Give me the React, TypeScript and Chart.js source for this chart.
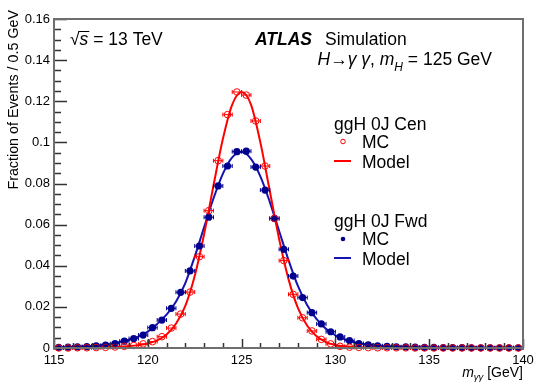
import React, { useEffect, useRef } from 'react';
import { Chart, registerables } from 'chart.js';

Chart.register(...registerables);

// ---- data ----
const binCenters = [
  115.25, 115.75, 116.25, 116.75, 117.25, 117.75, 118.25, 118.75, 119.25, 119.75,
  120.25, 120.75, 121.25, 121.75, 122.25, 122.75, 123.25, 123.75, 124.25, 124.75,
  125.25, 125.75, 126.25, 126.75, 127.25, 127.75, 128.25, 128.75, 129.25, 129.75,
  130.25, 130.75, 131.25, 131.75, 132.25, 132.75, 133.25, 133.75, 134.25, 134.75,
  135.25, 135.75, 136.25, 136.75, 137.25, 137.75, 138.25, 138.75, 139.25, 139.75,
];
const binHalfWidth = 0.25;

const cenMC = [
  0.0000, 0.0000, 0.0001, 0.0001, 0.0002, 0.0003, 0.0005, 0.0008, 0.0012, 0.0020,
  0.0031, 0.0055, 0.0097, 0.0165, 0.0272, 0.0444, 0.0668, 0.0911, 0.1135, 0.1245,
  0.1230, 0.1104, 0.0885, 0.0630, 0.0425, 0.0261, 0.0147, 0.0083, 0.0042, 0.0020,
  0.0008, 0.0004, 0.0003, 0.0002, 0.0001, 0.0001, 0.0001, 0.0001, 0.0000, 0.0000,
  0.0000, 0.0000, 0.0000, 0.0000, 0.0000, 0.0000, 0.0000, 0.0000, 0.0000, 0.0000,
];

const fwdMC = [
  0.0003, 0.0004, 0.0005, 0.0007, 0.0010, 0.0014, 0.0021, 0.0033, 0.0046, 0.0063,
  0.0099, 0.0136, 0.0193, 0.0271, 0.0375, 0.0496, 0.0636, 0.0788, 0.0885, 0.0955,
  0.0957, 0.0880, 0.0768, 0.0630, 0.0480, 0.0350, 0.0245, 0.0172, 0.0117, 0.0079,
  0.0054, 0.0036, 0.0022, 0.0015, 0.0011, 0.0008, 0.0006, 0.0005, 0.0004, 0.0003,
  0.0003, 0.0002, 0.0002, 0.0002, 0.0001, 0.0001, 0.0001, 0.0001, 0.0001, 0.0001,
];

const modelX = [
  115, 115.5, 116, 116.5, 117, 117.5, 118, 118.5, 119, 119.5,
  120, 120.5, 121, 121.5, 122, 122.5, 123, 123.5, 124, 124.5,
  125, 125.5, 126, 126.5, 127, 127.5, 128, 128.5, 129, 129.5,
  130, 130.5, 131, 131.5, 132, 132.5, 133, 133.5, 134, 134.5,
  135, 135.5, 136, 136.5, 137, 137.5, 138, 138.5, 139, 139.5, 140,
];

const cenModel = [
  0.0000, 0.0000, 0.0001, 0.0001, 0.0002, 0.0003, 0.0004, 0.0006, 0.0009, 0.0014,
  0.0022, 0.0037, 0.0066, 0.0118, 0.0205, 0.0350, 0.0553, 0.0789, 0.1016, 0.1184,
  0.1245, 0.1184, 0.1000, 0.0765, 0.0530, 0.0335, 0.0195, 0.0108, 0.0057, 0.0029,
  0.0015, 0.0008, 0.0005, 0.0003, 0.0002, 0.0002, 0.0001, 0.0001, 0.0001, 0.0000,
  0.0000, 0.0000, 0.0000, 0.0000, 0.0000, 0.0000, 0.0000, 0.0000, 0.0000, 0.0000, 0.0000,
];

const fwdModel = [
  0.0003, 0.0004, 0.0005, 0.0007, 0.0010, 0.0014, 0.0020, 0.0029, 0.0040, 0.0055,
  0.0080, 0.0117, 0.0162, 0.0225, 0.0316, 0.0444, 0.0587, 0.0727, 0.0847, 0.0927,
  0.0953, 0.0920, 0.0835, 0.0711, 0.0569, 0.0428, 0.0302, 0.0208, 0.0140, 0.0093,
  0.0062, 0.0042, 0.0028, 0.0019, 0.0013, 0.0009, 0.0007, 0.0005, 0.0004, 0.0003,
  0.0003, 0.0002, 0.0002, 0.0002, 0.0001, 0.0001, 0.0001, 0.0001, 0.0001, 0.0001, 0.0001,
];

const xMin = 115;
const xMax = 140;
const xMajorStep = 5;
const xMinorStep = 1;
const yMin = 0;
const yMax = 0.16;
const yMajorStep = 0.02;
const yMinorStep = 0.005;

// ---- styles ----
const FONT = '"Liberation Sans", Arial, Helvetica, sans-serif';
const BIG = 17.5;
const RED = '#ff0000';
const BLUE_PT = '#00008f';
const BLUE_LINE = '#1414b0';
const FRAME = '#6e6e6e';

const errorBarPlugin = {
  id: 'errBars',
  afterDatasetsDraw(chart: any) {
    const ctx = chart.ctx;
    const xs = chart.scales.x;
    const ys = chart.scales.y;
    chart.data.datasets.forEach((ds: any, i: number) => {
      if (!ds.errColor || !chart.isDatasetVisible(i)) return;
      ctx.save();
      ctx.strokeStyle = ds.errColor;
      ctx.lineWidth = 1;
      ds.data.forEach((p: any) => {
        const x1 = xs.getPixelForValue(p.x - binHalfWidth);
        const x2 = xs.getPixelForValue(p.x + binHalfWidth);
        const y = ys.getPixelForValue(p.y);
        ctx.beginPath();
        ctx.moveTo(x1, y);
        ctx.lineTo(x2, y);
        ctx.moveTo(x1, y - 2);
        ctx.lineTo(x1, y + 2);
        ctx.moveTo(x2, y - 2);
        ctx.lineTo(x2, y + 2);
        ctx.stroke();
      });
      ctx.restore();
    });
  },
};

type Part = { t: string; f: string; dy?: number };

function richWidth(ctx: CanvasRenderingContext2D, parts: Part[]) {
  let w = 0;
  parts.forEach((p) => {
    ctx.font = p.f;
    w += ctx.measureText(p.t).width;
  });
  return w;
}

function drawRich(ctx: CanvasRenderingContext2D, parts: Part[], x: number, y: number) {
  let cx = x;
  parts.forEach((p) => {
    ctx.font = p.f;
    ctx.fillText(p.t, cx, y + (p.dy || 0));
    cx += ctx.measureText(p.t).width;
  });
  return cx;
}

const framePlugin = {
  id: 'frameAndText',
  afterDraw(chart: any) {
    const ctx: CanvasRenderingContext2D = chart.ctx;
    const { left, right, top, bottom } = chart.chartArea;
    const xs = chart.scales.x;
    const ys = chart.scales.y;
    ctx.save();
    // ticks
    ctx.strokeStyle = '#333';
    ctx.lineWidth = 1.5;
    ctx.beginPath();
    for (let v = xMin; v <= xMax + 1e-9; v += xMinorStep) {
      const px = Math.round(xs.getPixelForValue(v)) + 0.5;
      const major = Math.abs(v / xMajorStep - Math.round(v / xMajorStep)) < 1e-6;
      const len = major ? 9 : 5;
      ctx.moveTo(px, bottom);
      ctx.lineTo(px, bottom - len);
    }
    const nY = Math.round((yMax - yMin) / yMinorStep);
    for (let k = 0; k <= nY; k++) {
      const v = yMin + k * yMinorStep;
      const py = Math.round(ys.getPixelForValue(v)) + 0.5;
      const major = k % Math.round(yMajorStep / yMinorStep) === 0;
      const len = major ? 13 : 7;
      ctx.moveTo(left, py);
      ctx.lineTo(left + len, py);
    }
    ctx.stroke();
    // frame
    ctx.strokeStyle = FRAME;
    ctx.lineWidth = 2;
    ctx.strokeRect(left, top, right - left, bottom - top);

    ctx.fillStyle = '#000';
    ctx.textBaseline = 'alphabetic';
    ctx.textAlign = 'left';

    // y title
    ctx.save();
    ctx.translate(18, 10);
    ctx.rotate(-Math.PI / 2);
    ctx.font = `14.3px ${FONT}`;
    ctx.textAlign = 'right';
    ctx.fillText('Fraction of Events / 0.5 GeV', 0, 0);
    ctx.restore();

    // x title
    const xt: Part[] = [
      { t: 'm', f: `italic 14px ${FONT}` },
      { t: 'γγ', f: `italic 9.5px ${FONT}`, dy: 3 },
      { t: ' [GeV]', f: `14px ${FONT}` },
    ];
    drawRich(ctx, xt, right - richWidth(ctx, xt), 377);

    // sqrt(s) = 13 TeV
    const r1 = `${BIG}px ${FONT}`;
    ctx.font = r1;
    ctx.fillText('√', 70, 45);
    const sx = 70 + ctx.measureText('√').width;
    ctx.font = `italic ${BIG}px ${FONT}`;
    ctx.fillText('s', sx, 45);
    const sw = ctx.measureText('s').width;
    ctx.lineWidth = 1;
    ctx.strokeStyle = '#000';
    ctx.beginPath();
    ctx.moveTo(sx - 1, 31.5);
    ctx.lineTo(sx + sw + 1, 31.5);
    ctx.stroke();
    ctx.font = r1;
    ctx.fillText(' = 13 TeV', sx + sw, 45);

    // ATLAS Simulation
    ctx.font = `italic bold ${BIG}px ${FONT}`;
    ctx.fillText('ATLAS', 255, 45);
    ctx.font = r1;
    ctx.fillText('Simulation', 325, 45);

    // H -> gamma gamma, m_H = 125 GeV
    const hp: Part[] = [
      { t: 'H', f: `italic ${BIG}px ${FONT}` },
      { t: '→', f: `${BIG}px ${FONT}` },
      { t: 'γ γ', f: `italic ${BIG}px ${FONT}` },
      { t: ', ', f: `${BIG}px ${FONT}` },
      { t: 'm', f: `italic ${BIG}px ${FONT}` },
      { t: 'H', f: `italic 12px ${FONT}`, dy: 6 },
      { t: ' = 125 GeV', f: `${BIG}px ${FONT}` },
    ];
    drawRich(ctx, hp, 492 - richWidth(ctx, hp), 65);

    // legend
    ctx.font = r1;
    ctx.fillText('ggH 0J Cen', 334, 130);
    ctx.fillText('MC', 362, 148);
    ctx.fillText('Model', 362, 168);
    ctx.fillText('ggH 0J Fwd', 334, 227);
    ctx.fillText('MC', 362, 245);
    ctx.fillText('Model', 362, 265);

    ctx.strokeStyle = RED;
    ctx.lineWidth = 1;
    ctx.beginPath();
    ctx.arc(343, 141.5, 2.3, 0, Math.PI * 2);
    ctx.stroke();
    ctx.lineWidth = 2;
    ctx.beginPath();
    ctx.moveTo(334, 161);
    ctx.lineTo(351, 161);
    ctx.stroke();

    ctx.fillStyle = BLUE_PT;
    ctx.beginPath();
    ctx.arc(343, 239, 2.3, 0, Math.PI * 2);
    ctx.fill();
    ctx.strokeStyle = BLUE_LINE;
    ctx.beginPath();
    ctx.moveTo(334, 258);
    ctx.lineTo(351, 258);
    ctx.stroke();

    ctx.restore();
  },
};

function fmt(v: number) {
  return String(Number(Number(v).toFixed(4)));
}

export default function App() {
  const ref = useRef<HTMLCanvasElement | null>(null);
  useEffect(() => {
    document.body.style.margin = '0';
    const canvas = ref.current;
    if (!canvas) return;
    const pts = (xs: number[], ys: number[]) => xs.map((x, i) => ({ x, y: ys[i] }));
    const chart = new Chart(canvas, {
      type: 'scatter',
      data: {
        datasets: [
          {
            label: 'Cen MC',
            data: pts(binCenters, cenMC),
            showLine: false,
            pointStyle: 'circle',
            pointRadius: 3.3,
            pointBorderWidth: 1,
            pointBorderColor: RED,
            pointBackgroundColor: 'rgba(255,255,255,0)',
            clip: false,
            errColor: RED,
          } as any,
          {
            label: 'Fwd MC',
            data: pts(binCenters, fwdMC),
            showLine: false,
            pointStyle: 'circle',
            pointRadius: 3.6,
            pointBorderWidth: 0,
            pointBorderColor: BLUE_PT,
            pointBackgroundColor: BLUE_PT,
            clip: false,
            errColor: BLUE_PT,
          } as any,
          {
            label: 'Cen Model',
            data: pts(modelX, cenModel),
            showLine: true,
            pointRadius: 0,
            borderColor: RED,
            borderWidth: 2,
            cubicInterpolationMode: 'monotone',
            fill: false,
          },
          {
            label: 'Fwd Model',
            data: pts(modelX, fwdModel),
            showLine: true,
            pointRadius: 0,
            borderColor: BLUE_LINE,
            borderWidth: 2,
            cubicInterpolationMode: 'monotone',
            fill: false,
          },
        ],
      },
      options: {
        responsive: false,
        animation: false,
        layout: { padding: { top: 19, right: 17, left: 0, bottom: 0 } },
        plugins: { legend: { display: false }, tooltip: { enabled: false } },
        scales: {
          x: {
            type: 'linear',
            min: xMin,
            max: xMax,
            grid: { display: false, drawTicks: false },
            border: { display: false },
            ticks: {
              stepSize: xMajorStep,
              color: '#000',
              font: { size: 13, family: FONT },
              padding: 5,
              maxRotation: 0,
              callback: (v: any) => fmt(v),
            },
            afterFit: (s: any) => {
              s.height = 40;
            },
          },
          y: {
            min: yMin,
            max: yMax,
            grid: { display: false, drawTicks: false },
            border: { display: false },
            ticks: {
              stepSize: yMajorStep,
              color: '#000',
              font: { size: 13, family: FONT },
              padding: 4,
              callback: (v: any) => fmt(v),
            },
            afterFit: (s: any) => {
              s.width = 54;
            },
          },
        },
      },
      plugins: [errorBarPlugin, framePlugin],
    } as any);
    return () => chart.destroy();
  }, []);
  return (
    <div style={{ width: 540, height: 388, background: '#fff' }}>
      <canvas ref={ref} width={540} height={388} />
    </div>
  );
}
